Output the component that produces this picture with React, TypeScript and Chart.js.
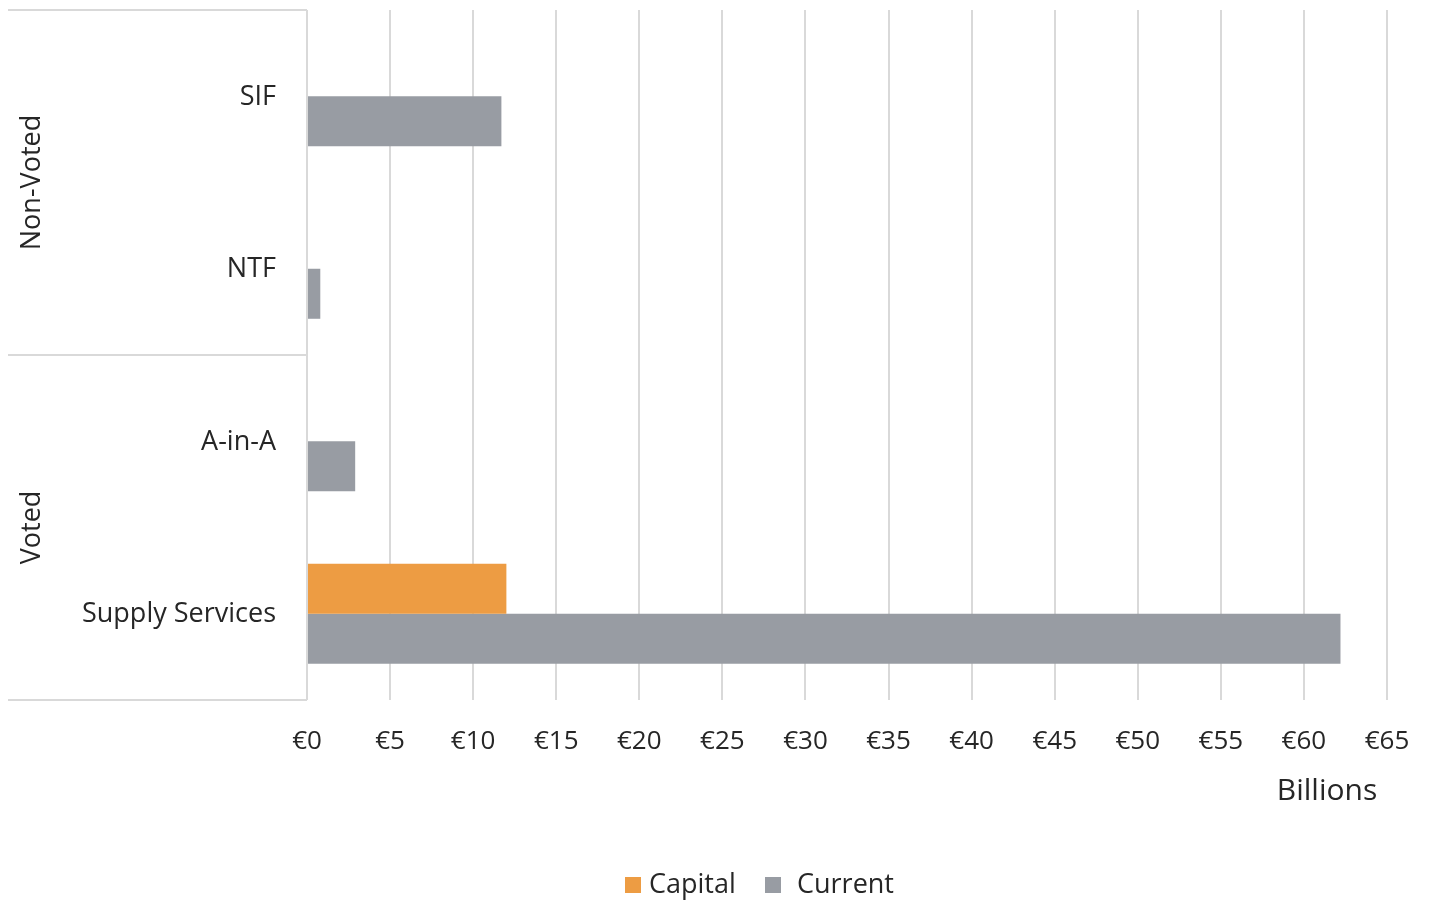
import React, { useEffect, useRef } from "react";
import { Chart, registerables } from "chart.js";

Chart.register(...registerables);

const categories = ["SIF", "NTF", "A-in-A", "Supply Services"];
const groups = [
  { label: "Non-Voted", from: 0, to: 1 },
  { label: "Voted", from: 2, to: 3 },
];
const capitalValues = [null, null, null, 12.0];
const currentValues = [11.7, 0.8, 2.9, 62.2];
const xTickMin = 0;
const xTickMax = 65;
const xTickStep = 5;
const axisUnit = "Billions";
const seriesNames = ["Capital", "Current"];
const seriesColors = ["#ED9C43", "#989CA3"];

const FONT = "'Open Sans', 'Segoe UI', sans-serif";
const TEXT = "#262626";
const LINE = "#d9d9d9";

const sidePlugin = {
  id: "side",
  afterDraw(chart: any) {
    const { ctx, chartArea, scales } = chart;
    const y = scales.y;
    ctx.save();
    ctx.fillStyle = TEXT;
    ctx.font = `27px ${FONT}`;
    ctx.textAlign = "right";
    ctx.textBaseline = "middle";
    categories.forEach((c, i) => {
      ctx.fillText(c, chartArea.left - 31, y.getPixelForValue(i) + 1);
    });
    ctx.strokeStyle = LINE;
    ctx.lineWidth = 2;
    const half = (y.getPixelForValue(1) - y.getPixelForValue(0)) / 2;
    ctx.beginPath();
    ctx.moveTo(chartArea.left, chartArea.top);
    ctx.lineTo(chartArea.left, chartArea.bottom);
    groups.forEach((g) => {
      const t = y.getPixelForValue(g.from) - half;
      const b = y.getPixelForValue(g.to) + half;
      ctx.moveTo(8, t);
      ctx.lineTo(chartArea.left, t);
      ctx.moveTo(8, b);
      ctx.lineTo(chartArea.left, b);
    });
    ctx.stroke();
    groups.forEach((g) => {
      const t = y.getPixelForValue(g.from) - half;
      const b = y.getPixelForValue(g.to) + half;
      ctx.save();
      ctx.translate(32, (t + b) / 2);
      ctx.rotate(-Math.PI / 2);
      ctx.textAlign = "center";
      ctx.textBaseline = "middle";
      ctx.font = `27px ${FONT}`;
      ctx.fillText(g.label, 0, 0);
      ctx.restore();
    });
    ctx.textAlign = "center";
    ctx.textBaseline = "middle";
    ctx.font = `30px ${FONT}`;
    ctx.fillText(axisUnit, 1327, 791);
    ctx.font = `27px ${FONT}`;
    ctx.textAlign = "left";
    const ly = 885;
    ctx.fillStyle = seriesColors[0];
    ctx.fillRect(625, ly - 8, 16, 16);
    ctx.fillStyle = TEXT;
    ctx.fillText(seriesNames[0], 649, ly);
    ctx.fillStyle = seriesColors[1];
    ctx.fillRect(765, ly - 8, 16, 16);
    ctx.fillStyle = TEXT;
    ctx.fillText(seriesNames[1], 797, ly);
    ctx.restore();
  },
};

export default function App() {
  const ref = useRef<HTMLCanvasElement | null>(null);
  useEffect(() => {
    if (!ref.current) return;
    const chart = new Chart(ref.current, {
      type: "bar",
      data: {
        labels: categories,
        datasets: [
          {
            label: seriesNames[0],
            data: capitalValues as any,
            backgroundColor: seriesColors[0],
            borderWidth: 0,
          },
          {
            label: seriesNames[1],
            data: currentValues,
            backgroundColor: seriesColors[1],
            borderWidth: 0,
          },
        ],
      },
      options: {
        indexAxis: "y",
        animation: false,
        responsive: false,
        maintainAspectRatio: false,
        layout: { padding: { left: 307, right: 42, top: 10, bottom: 0 } },
        datasets: { bar: { categoryPercentage: 0.58, barPercentage: 1 } },
        plugins: { legend: { display: false }, tooltip: { enabled: false } },
        scales: {
          y: { display: false },
          x: {
            type: "linear",
            position: "bottom",
            min: xTickMin,
            max: xTickMax,
            afterFit: (s: any) => {
              s.height = 202;
              s.paddingRight = 0;
              s.paddingLeft = 0;
            },
            border: { display: false },
            grid: { color: LINE, lineWidth: 2, drawTicks: false },
            ticks: {
              stepSize: xTickStep,
              padding: 26,
              color: TEXT,
              font: { family: FONT, size: 26 },
              maxRotation: 0,
              autoSkip: false,
              callback: (v: any) => "€" + v,
            },
          },
        },
      },
      plugins: [sidePlugin],
    });
    return () => chart.destroy();
  }, []);
  return (
    <div style={{ position: "fixed", left: 0, top: 0, width: 1429, height: 902, background: "#fff" }}>
      <canvas ref={ref} width={1429} height={902} />
    </div>
  );
}
